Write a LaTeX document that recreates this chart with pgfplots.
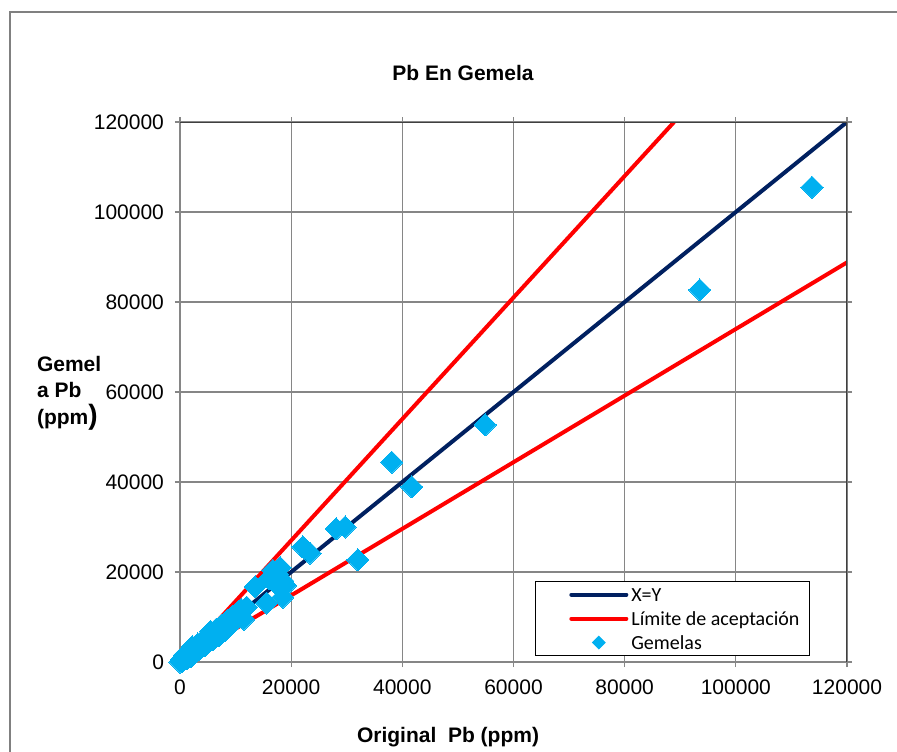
\documentclass[border=0pt]{standalone}
\usepackage{pgfplots}
\pgfplotsset{compat=1.18}
\usepackage{pgfplotstable}
\usepackage{fontspec}
\setmainfont{Liberation Sans}
\newfontfamily\legendfont{Carlito}

\definecolor{navyline}{RGB}{0,32,96}
\definecolor{gemcyan}{RGB}{0,176,240}
\definecolor{gridgray}{RGB}{134,134,134}
\definecolor{framegray}{RGB}{128,128,128}
\definecolor{edgegray}{RGB}{64,64,64}

% Original vs. twin (gemela) Pb assays, ppm
\pgfplotstableread{
x y
0 0
300 600
500 200
800 1500
1200 700
1500 2200
2000 1200
2200 3400
2800 2300
3200 4000
3500 2800
4000 4700
4500 3600
5000 5400
5500 6800
6000 5000
6500 7300
7000 5800
7500 8200
8000 7000
8500 9200
9000 8300
9500 10200
10000 9300
10500 11200
11000 11700
11500 9500
12000 12200
13500 16700
15600 13100
16000 18500
16700 20400
17200 17500
17500 19500
18000 16700
18000 21000
18500 14400
18500 18000
19000 17000
22100 25600
23400 24200
28100 29600
29700 30000
32000 22700
38100 44400
41700 38900
54900 52700
93500 82700
113700 105500
}\gemelas

% y = x and the acceptance limits y = 1.35x, y = 0.74x
\pgfplotstableread{
x y
0 0
120000 120000
}\identidad
\pgfplotstableread{
x y
0 0
88889 120000
}\limsup
\pgfplotstableread{
x y
0 0
120000 88800
}\liminf

\begin{document}
\begin{tikzpicture}
\useasboundingbox (-90pt,-44.5pt) rectangle (358.5pt,331pt);
\draw[framegray, line width=1pt] (-85pt,-60pt) -- (-85pt,325pt) -- (380pt,325pt);
\begin{axis}[
  scale only axis,
  width=333.5pt, height=270pt,
  xmin=0, xmax=120000, ymin=0, ymax=120000,
  scaled ticks=false,
  xtick={0,20000,40000,60000,80000,100000,120000},
  ytick={0,20000,40000,60000,80000,100000,120000},
  xticklabels={0,20000,40000,60000,80000,100000,120000},
  yticklabels={0,20000,40000,60000,80000,100000,120000},
  grid=major,
  major grid style={gridgray, line width=0.6pt},
  axis line style={gridgray, line width=0.6pt},
  tick align=outside,
  major tick length=2.5pt,
  tick style={gridgray, line width=0.6pt},
  ticklabel style={font=\fontsize{10.5}{12}\selectfont},
  xticklabel style={yshift=-3pt},
  yticklabel style={xshift=-2pt},
  legend style={
    at={(0.532,0.011)}, anchor=south west,
    draw=black, line width=0.5pt, fill=white,
    font=\legendfont\fontsize{10}{12}\selectfont,
    inner xsep=3.5pt, inner ysep=0.5pt,
    row sep=0pt,
    nodes={inner xsep=1.5pt, inner ysep=0.5pt, text height=9pt, text depth=2pt},
  },
  legend cell align=left,
]
\addplot[navyline, line width=2pt,
  legend image code/.code={\path (-13.5pt,0pt); \draw[navyline, line width=2pt, line cap=round] (0pt,0pt) -- (27.5pt,0pt);}]
  table {\identidad};
\addlegendentry{X=Y}
\addplot[red, line width=2pt,
  legend image code/.code={\path (-13.5pt,0pt); \draw[red, line width=2pt, line cap=round] (0pt,0pt) -- (27.5pt,0pt);}]
  table {\limsup};
\addlegendentry{Límite de aceptación}
\addplot[red, line width=2pt, forget plot] table {\liminf};
\addplot[only marks, mark=square*, mark size=3.9pt,
  mark options={rotate=45, fill=gemcyan, draw=gemcyan, line width=0pt},
  legend image code/.code={\path (-13.5pt,0pt); \path (27.5pt,0pt); \draw[mark size=2.2pt, mark=square*, mark options={rotate=45, fill=gemcyan, draw=gemcyan}] plot coordinates {(13.75pt,0pt)};}]
  table {\gemelas};
\addlegendentry{Gemelas}
\draw[edgegray, line width=0.8pt] (rel axis cs:0,1) -- (rel axis cs:1,1) -- (rel axis cs:1,0);
\end{axis}
\node[font=\bfseries\fontsize{10.5}{12}\selectfont] at (141.5pt,294.5pt) {Pb En Gemela};
\node[font=\bfseries\fontsize{10.5}{12}\selectfont] at (134pt,-37.5pt) {Original\ \ Pb (ppm)};
\node[font=\bfseries\fontsize{10.5}{13.25}\selectfont, align=left, anchor=west] at (-75pt,134.5pt)
  {Gemel\\a Pb\\(ppm{\fontsize{14}{13.25}\selectfont)}};
\end{tikzpicture}
\end{document}
